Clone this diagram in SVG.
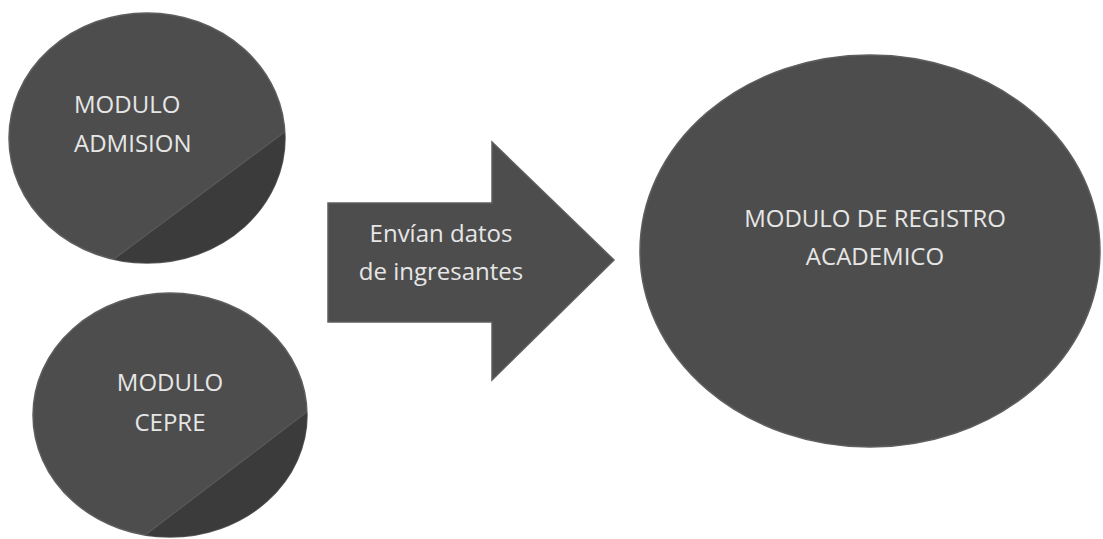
<svg xmlns="http://www.w3.org/2000/svg" width="1103" height="539" viewBox="0 0 1103 539">
  <style>
    .shape { fill: #4d4d4d; stroke: #5e5e5e; stroke-width: 1.5; }
    .fold { fill: #3b3b3b; }
    .crease { fill: none; stroke: #5a5a5a; stroke-width: 1.2; }
    .label { font-family: "Open Sans", "Noto Sans", "Liberation Sans", sans-serif; font-size: 24px; fill: #e6e6e6; }
    .c { text-anchor: middle; }
  </style>
  <defs>
    <clipPath id="clipAdm"><ellipse cx="147" cy="138" rx="138" ry="125"/></clipPath>
    <clipPath id="clipCep"><ellipse cx="170" cy="415" rx="137" ry="122"/></clipPath>
  </defs>
  <rect width="1103" height="539" fill="#ffffff"/>

  <g id="node-admision">
    <ellipse class="shape" cx="147" cy="138" rx="138" ry="125"/>
    <polygon class="fold" clip-path="url(#clipAdm)" points="290,128 110,262 300,270"/>
    <line class="crease" clip-path="url(#clipAdm)" x1="290" y1="128" x2="110" y2="262"/>
    <text class="label" x="74" y="113">MODULO</text>
    <text class="label" x="74" y="152">ADMISION</text>
  </g>

  <g id="node-cepre">
    <ellipse class="shape" cx="170" cy="415" rx="137" ry="122"/>
    <polygon class="fold" clip-path="url(#clipCep)" points="312,408 136,542 320,545"/>
    <line class="crease" clip-path="url(#clipCep)" x1="312" y1="408" x2="136" y2="542"/>
    <text class="label c" x="170" y="391">MODULO</text>
    <text class="label c" x="170" y="431">CEPRE</text>
  </g>

  <g id="node-registro">
    <ellipse class="shape" cx="870" cy="251" rx="230" ry="196"/>
    <text class="label c" x="875" y="227">MODULO DE REGISTRO</text>
    <text class="label c" x="875" y="265">ACADEMICO</text>
  </g>

  <g id="connectors">
    <polygon class="shape" points="328,203 492,203 492,142 614,260 492,380 492,322 328,322"/>
    <text class="label c" x="441" y="242">Envían datos</text>
    <text class="label c" x="441" y="280">de ingresantes</text>
  </g>
</svg>
